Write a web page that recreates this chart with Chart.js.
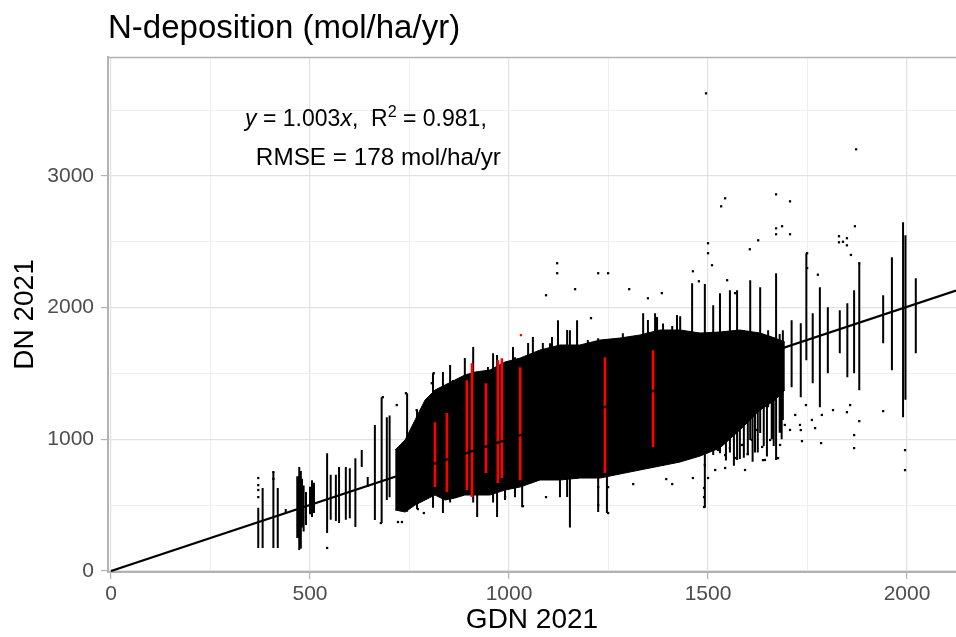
<!DOCTYPE html>
<html>
<head>
<meta charset="utf-8">
<script src="https://cdn.jsdelivr.net/npm/chart.js@4.4.1/dist/chart.umd.min.js"></script>
<style>
html,body{margin:0;padding:0;background:#fff;}
#wrap{width:956px;height:637px;position:relative;}
</style>
</head>
<body>
<div id="wrap"><canvas id="c" width="956" height="637" style="width:956px;height:637px"></canvas></div>
<script>
const FONT = "'Liberation Sans', Arial, Helvetica, sans-serif";

// ---- texts ----
const titleText = "N-deposition (mol/ha/yr)";
const xTitle = "GDN 2021";
const yTitle = "DN 2021";

// ---- axes ----
const xTickValues = [0, 250, 500, 750, 1000, 1250, 1500, 1750, 2000];
const xLabelValues = [0, 500, 1000, 1500, 2000];
const yTickValues = [0, 500, 1000, 1500, 2000, 2500, 3000, 3500];
const yLabelValues = [0, 1000, 2000, 3000];

// ---- fitted line (y = 1.003x) ----
const regSlope = 1.003;
const regX = [0, 2123];

// ---- dense core of the cloud (upper / lower edge) ----
const coreX      = [714, 739, 764, 789, 814, 839, 864, 889, 915, 952, 990, 1028, 1078, 1128, 1178, 1229, 1279, 1329, 1379, 1430, 1480, 1530, 1580, 1631, 1668, 1693];
const coreTop    = [919, 995, 1147, 1298, 1374, 1412, 1450, 1488, 1511, 1526, 1587, 1617, 1678, 1716, 1716, 1754, 1769, 1792, 1830, 1830, 1807, 1815, 1830, 1807, 1769, 1739];
const coreBottom = [463, 448, 501, 539, 577, 539, 554, 577, 577, 577, 615, 638, 691, 691, 706, 706, 737, 767, 797, 828, 873, 934, 1071, 1222, 1298, 1374];

// ---- black point columns (GDN value, lowest DN, highest DN) ----
const colX  = [370, 381, 408, 419, 439, 468, 473, 477, 480, 484, 490, 500, 505, 510, 543, 552, 565, 573, 590, 600, 614, 630, 645, 663, 680, 693, 700,
               744, 769, 809, 834, 852, 859, 889, 910, 920, 947, 960, 970, 990, 1010, 1015, 1033, 1048, 1060, 1085, 1103, 1108, 1123, 1128, 1146, 1153, 1171, 1183, 1198, 1224, 1246, 1279, 1286, 1304, 1337, 1349, 1367, 1372, 1387, 1410, 1422, 1430, 1460, 1492, 1513, 1530, 1555, 1573, 1580, 1600, 1606, 1618, 1631, 1640, 1651, 1660, 1671, 1680, 1688,
               1545, 1565, 1590, 1612, 1625, 1648, 1665, 1685,
               1710, 1733, 1747, 1763, 1781, 1801, 1831, 1850, 1867, 1880, 1940, 1962, 1990, 1996, 2022];
const colLo = [175, 175, 175, 175, 440, 250, 160, 170, 330, 300, 350, 430, 410, 440, 288, 390, 380, 364, 390, 400, 334, 789, 637, 387, 364, 539, 560,
               450, 470, 480, 440, 520, 562, 600, 520, 410, 600, 520, 410, 539, 640, 560, 485, 700, 700, 700, 700, 700, 700, 560, 562, 330, 700, 720, 720, 448, 440, 750, 760, 760, 800, 800, 820, 830, 800, 820, 895, 830, 880, 480, 880, 895, 900, 842, 850, 880, 994, 900, 1047, 950, 1244, 1000, 842, 1050, 1146,
               840, 800, 860, 830, 900, 870, 950, 1000,
               1396, 1320, 1601, 1426, 1244, 1502, 1654, 1472, 1502, 1373, 1730, 1525, 1168, 1300, 1654];
const colHi = [480, 630, 751, 630, 470, 720, 790, 760, 700, 650, 600, 640, 690, 670, 895, 730, 730, 789, 789, 780, 857, 918, 713, 1108, 1320, 1168, 1180,
               1350, 1222, 1502, 1511, 1564, 1450, 1617, 1700, 1500, 1549, 1654, 1640, 1560, 1701, 1624, 1600, 1731, 1776, 1731, 1730, 1777, 1904, 1700, 1830, 1829, 1904, 1678, 1754, 1767, 1700, 1754, 1806, 1777, 1958, 1906, 1958, 1929, 1880, 1860, 1944, 1935, 2185, 2180, 2018, 2110, 2132, 2132, 1800, 1750, 2208, 1800, 2155, 1780, 1829, 1750, 2261, 1800, 1829,
               1200, 1300, 1350, 1400, 1500, 1500, 1550, 1500,
               1904, 1882, 2413, 1958, 2155, 2003, 1980, 2033, 2132, 2337, 2094, 2382, 2648, 2550, 2223];

// ---- red point columns ----
const redX  = [814, 844, 894, 907, 942, 972, 982, 1028, 1241, 1362];
const redLo = [637, 599, 615, 561, 744, 668, 706, 690, 744, 941];
const redHi = [1130, 1199, 1449, 1578, 1426, 1601, 1616, 1548, 1624, 1677];
const redPtX = [1030];
const redPtY = [1791];

// ---- isolated black points ----
const outX = [1495, 1872, 1543, 1533, 1671, 1706, 1869, 1605, 1626, 1671, 1671, 1686, 1706, 1829, 1829, 1849, 1849,
              1121, 1121, 1093, 1166, 1224, 1249, 1302, 1384, 1462, 1477, 1500, 1500, 1510, 1548, 1568, 1349, 1206, 1749, 1749, 1776, 1839, 1859, 1880,
              1490, 1490, 1490, 1500, 1600, 1638, 1676, 1736, 1784, 1867, 1867, 1995, 1995, 1940, 1880, 1849, 1769, 1733,
              1224, 1224, 1249, 1249, 1093, 1035, 990, 1312, 1395, 1462, 1410,
              543, 678, 741, 683, 811, 806, 771, 786, 718, 768, 721, 731, 370, 370, 370, 370, 408, 408,
              1492, 1510, 1525, 1543, 1555, 1568, 1585, 1600, 1610, 1623, 1636, 1643, 1656, 1673, 1681, 1693, 1706, 1719, 1731, 1746, 1761, 1786, 1814, 1857, 1492, 1518, 1543, 1593];
const outY = [3627, 3202, 2830, 2769, 2860, 2807, 2618, 2443, 2511, 2602, 2557, 2618, 2557, 2542, 2496, 2527, 2473,
              2337, 2261, 2094, 2140, 2261, 2261, 2140, 2110, 2276, 2200, 2489, 2413, 2322, 2208, 2110, 2071, 1920, 2413, 2300, 2250, 2500, 2400, 2337,
              630, 561, 486, 706, 888, 842, 857, 986, 971, 933, 1032, 918, 766, 1214, 1138, 1206, 1085, 1070,
              637, 500, 637, 440, 561, 493, 561, 660, 698, 706, 660,
              175, 364, 1350, 1320, 1502, 1426, 470, 440, 1260, 1222, 372, 372, 706, 652, 615, 561, 700, 751,
              995, 957, 919, 881, 934, 858, 957, 888, 995, 1071, 942, 843, 995, 858, 957, 1109, 1071, 1185, 1109, 1260, 1147, 1185, 1222, 1260, 805, 767, 782, 767];

// ---- annotation ----
const annLine1 = [{t: "y", it: true}, {t: " = 1.003"}, {t: "x", it: true}, {t: ",  R"}, {t: "2", sup: true}, {t: " = 0.981,"}];
const annLine2 = [{t: "RMSE = 178 mol/ha/yr"}];
const annPos1 = {x: 337, y: 3379};
const annPos2 = {x: 364, y: 3083};

// ---- build datasets from arrays ----
function columns(xs, lo, hi) {
  const out = [];
  for (let i = 0; i < xs.length; i++) {
    out.push({x: xs[i], y: lo[i]}, {x: xs[i], y: hi[i]}, {x: xs[i], y: null});
  }
  return out;
}
function pts(xs, ys) { return xs.map((x, i) => ({x: x, y: ys[i]})); }

const datasets = [
  { type: 'line', order: 0, data: regX.map(x => ({x: x, y: regSlope * x})), borderColor: '#000', borderWidth: 2.2, pointRadius: 0, pointHoverRadius: 0, fill: false },
  { type: 'scatter', order: 1, data: pts(redPtX, redPtY), backgroundColor: '#ff0000', borderWidth: 0, pointRadius: 1.6, pointHoverRadius: 0, pointStyle: 'rect' },
  { type: 'line', order: 2, data: columns(redX, redLo, redHi), borderColor: '#ff0000', borderWidth: 2.6, pointRadius: 0, pointHoverRadius: 0, spanGaps: false, fill: false, borderCapStyle: 'butt' },
  { type: 'scatter', order: 3, data: pts(outX, outY), backgroundColor: '#000', borderWidth: 0, pointRadius: 1.6, pointHoverRadius: 0, pointStyle: 'rect' },
  { type: 'line', order: 4, data: columns(colX, colLo, colHi), borderColor: '#000', borderWidth: 2, pointRadius: 0, pointHoverRadius: 0, spanGaps: false, fill: false, borderCapStyle: 'butt' },
  { type: 'line', order: 5, data: pts(coreX, coreTop), borderColor: '#000', borderWidth: 1, backgroundColor: '#000', pointRadius: 0, pointHoverRadius: 0, fill: '+1', tension: 0 },
  { type: 'line', order: 6, data: pts(coreX, coreBottom), borderColor: '#000', borderWidth: 1, pointRadius: 0, pointHoverRadius: 0, fill: false, tension: 0 }
];

const textPlugin = {
  id: 'texts',
  afterDraw(chart) {
    const ctx = chart.ctx, a = chart.chartArea;
    ctx.save();
    // panel border (top)
    ctx.strokeStyle = '#b3b3b3';
    ctx.lineWidth = 1.3;
    ctx.beginPath();
    ctx.moveTo(a.left, a.top + 0.5);
    ctx.lineTo(a.right, a.top + 0.5);
    ctx.stroke();
    // title
    ctx.fillStyle = '#000';
    ctx.textBaseline = 'alphabetic';
    ctx.textAlign = 'left';
    ctx.font = `33px ${FONT}`;
    ctx.fillText(titleText, a.left, 38);
    // annotation
    const xs = chart.scales.x, ys = chart.scales.y;
    function drawLine(parts, pos, base) {
      let px = xs.getPixelForValue(pos.x);
      const py = ys.getPixelForValue(pos.y);
      for (const p of parts) {
        const size = p.sup ? base * 0.7 : base;
        ctx.font = `${p.it ? 'italic ' : ''}${size}px ${FONT}`;
        ctx.fillText(p.t, px, p.sup ? py - base * 0.4 : py);
        px += ctx.measureText(p.t).width;
      }
    }
    drawLine(annLine1, annPos1, 23);
    drawLine(annLine2, annPos2, 24.3);
    ctx.restore();
  }
};

const isMajorX = v => xLabelValues.includes(v);
const isMajorY = v => yLabelValues.includes(v);

new Chart(document.getElementById('c'), {
  type: 'scatter',
  data: { datasets: datasets },
  options: {
    responsive: false,
    animation: false,
    devicePixelRatio: 1,
    layout: { autoPadding: false, padding: { top: 57, left: 0, right: 0, bottom: 0 } },
    plugins: { legend: { display: false }, tooltip: { enabled: false }, title: { display: false } },
    scales: {
      x: {
        type: 'linear', min: -7.5, max: 2123, offset: false,
        afterBuildTicks: s => { s.ticks = xTickValues.map(v => ({value: v})); },
        afterFit: s => { s.height = 65; s.paddingLeft = 0; s.paddingRight = 0; },
        ticks: { autoSkip: false, maxRotation: 0, padding: 3, color: '#4d4d4d', font: { family: FONT, size: 21 },
                 callback: v => isMajorX(v) ? String(v) : '' },
        grid: { color: c => isMajorX(c.tick.value) ? '#e2e2e2' : '#efefef', lineWidth: c => isMajorX(c.tick.value) ? 1.2 : 1,
                tickColor: c => isMajorX(c.tick.value) ? '#b3b3b3' : 'rgba(0,0,0,0)', tickLength: 7, drawTicks: true },
        border: { color: '#b3b3b3', width: 2 },
        title: { display: true, text: xTitle, color: '#000', font: { family: FONT, size: 28 }, padding: { top: 0, bottom: 0 } }
      },
      y: {
        type: 'linear', min: -7.6, max: 3903, stacked: false,
        afterBuildTicks: s => { s.ticks = yTickValues.map(v => ({value: v})); },
        afterFit: s => { s.width = 108; s.paddingTop = 0; s.paddingBottom = 0; },
        ticks: { autoSkip: false, padding: 7, color: '#4d4d4d', font: { family: FONT, size: 21 },
                 callback: v => isMajorY(v) ? String(v) : '' },
        grid: { color: c => isMajorY(c.tick.value) ? '#e2e2e2' : '#efefef', lineWidth: c => isMajorY(c.tick.value) ? 1.2 : 1,
                tickColor: c => isMajorY(c.tick.value) ? '#b3b3b3' : 'rgba(0,0,0,0)', tickLength: 7, drawTicks: true },
        border: { color: '#b3b3b3', width: 2 },
        title: { display: true, text: yTitle, color: '#000', font: { family: FONT, size: 28 }, padding: { top: 8, bottom: 0 } }
      }
    }
  },
  plugins: [textPlugin]
});
</script>
</body>
</html>
